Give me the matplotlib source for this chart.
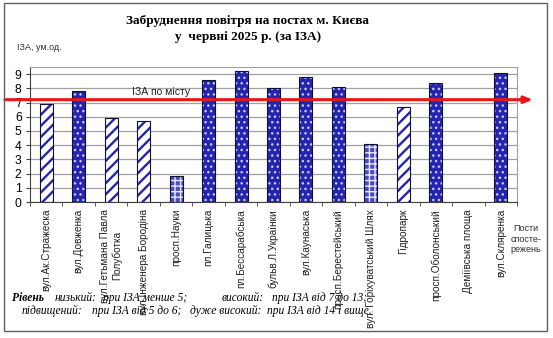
import numpy as np
import matplotlib.pyplot as plt
from matplotlib.patches import Rectangle

plt.rcParams['font.family'] = ['Liberation Sans', 'DejaVu Sans']

# posts and monthly API values (NaN = no data)
posts = ["вул.Ак.Стражеска", "вул.Довженка", "вул.Гетьмана Павла\nПолуботка",
         "вул.Інженера Бородіна", "просп.Науки", "пл.Галицька", "пл.Бессарабська",
         "бульв.Л.Українки", "вул.Каунаська", "просп.Берестейський",
         "вул. Горіхуватський Шлях", "Гідропарк", "просп.Оболонський",
         "Деміївська площа", "вул.Скляренка"]
iza = [6.9, 7.8, 5.9, 5.7, 1.8, 8.6, 9.2, 8.0, 8.8, 8.1, 4.1, 6.7, 8.4, np.nan, 9.1]
city_iza = 7.2
yticks = list(range(0, 10))

W, H = 553, 338
fig = plt.figure(figsize=(W / 100, H / 100), dpi=100)
ax = fig.add_axes([30 / W, 1 - 202 / H, 487 / W, 135 / H])

x = np.arange(len(posts))
vals = np.array(iza)
blue = '#2424B0'

# level styles: low (<5) brick, elevated (5-7) stripes, high (>=7) dots
low = vals < 5
mid = (vals >= 5) & (vals < 7)
high = vals >= 7

plt.rcParams['hatch.linewidth'] = 1.7
ax.bar(x[mid], vals[mid], 0.4, color='white', edgecolor=blue, hatch='///', lw=0, zorder=2)
plt.rcParams['hatch.linewidth'] = 1.0
ax.bar(x[high], vals[high], 0.4, color=blue, edgecolor='#C8C8F0', hatch='...', lw=0, zorder=2)
ax.bar(x[low], vals[low], 0.4, color='#4C4CC4', edgecolor='#E8E8FF', hatch='+++', lw=0, zorder=2)
ok = ~np.isnan(vals)
ax.bar(x[ok], vals[ok], 0.4, fill=False, edgecolor='#101030', lw=0.8, zorder=3)

ax.set_xlim(-0.5, len(posts) - 0.5)
ax.set_ylim(0, 9.5)
ax.set_yticks(yticks)
ax.tick_params(axis='y', labelsize=8.7, length=3, color='#404040', pad=3)
ax.set_xticks(x)
ax.set_xticklabels(posts, rotation=90, fontsize=7.2, va='top', ha='center',
                   multialignment='center', color='#202020')
ax.tick_params(axis='x', which='major', length=0, pad=5)
ax.set_xticks(np.arange(len(posts) + 1) - 0.5, minor=True)
ax.tick_params(axis='x', which='minor', length=3, color='#404040')
ax.grid(axis='y', color='#A0A0A0', lw=0.9, zorder=0)
for s in ['top', 'right']:
    ax.spines[s].set_color('#A0A0A0')
ax.spines['left'].set_color('#404040')
ax.spines['bottom'].set_color('#404040')

# city-wide level with arrow past the plot
ax.annotate('', xy=(533 / W, city_iza), xytext=(5 / W, city_iza),
            xycoords=('figure fraction', 'data'), textcoords=('figure fraction', 'data'),
            arrowprops=dict(arrowstyle='-|>,head_length=0.5,head_width=0.2',
                            color='#E41818', lw=2.2, shrinkA=0, shrinkB=0),
            zorder=5, annotation_clip=False)
ax.text(2.65, city_iza + 0.2, 'ІЗА по місту', fontsize=7.5, va='bottom', ha='left', color='#202020')

fig.text(248 / W, 1 - 21 / H, 'Забруднення повітря на постах м. Києва',
         family='Liberation Serif', weight='bold', fontsize=9.5, ha='center', va='center')
fig.text(248 / W, 1 - 37 / H, 'у  червні 2025 р. (за ІЗА)',
         family='Liberation Serif', weight='bold', fontsize=9.5, ha='center', va='center')
fig.text(17 / W, 1 - 47 / H, 'ІЗА, ум.од.', fontsize=6.5, ha='left', va='center', color='#303030')
fig.text(526 / W, 1 - 239 / H, 'Пости\nспосте-\nрежень', fontsize=6.5, ha='center',
         va='center', color='#303030', linespacing=1.15)

# level legend under the chart
cap = dict(family='Liberation Serif', style='italic', fontsize=8.3, va='center')
y1, y2 = 1 - 298 / H, 1 - 311 / H
fig.text(12 / W, y1, 'Рівень', weight='bold', **cap)
fig.text(55 / W, y1, 'низький:', **cap)
fig.text(103 / W, y1, 'при ІЗА менше 5;', **cap)
fig.text(222 / W, y1, 'високий:', **cap)
fig.text(272 / W, y1, 'при ІЗА від 7 до 13;', **cap)
fig.text(22 / W, y2, 'підвищений:', **cap)
fig.text(92 / W, y2, 'при ІЗА від 5 до 6;', **cap)
fig.text(190 / W, y2, 'дуже високий:', **cap)
fig.text(267 / W, y2, 'при ІЗА від 14 і вище.', **cap)

fig.add_artist(Rectangle((4 / W, 1 - 331 / H), 543 / W, 328 / H, transform=fig.transFigure,
                         fill=False, edgecolor='#606060', lw=1))

fig.savefig('out.png', dpi=100)
